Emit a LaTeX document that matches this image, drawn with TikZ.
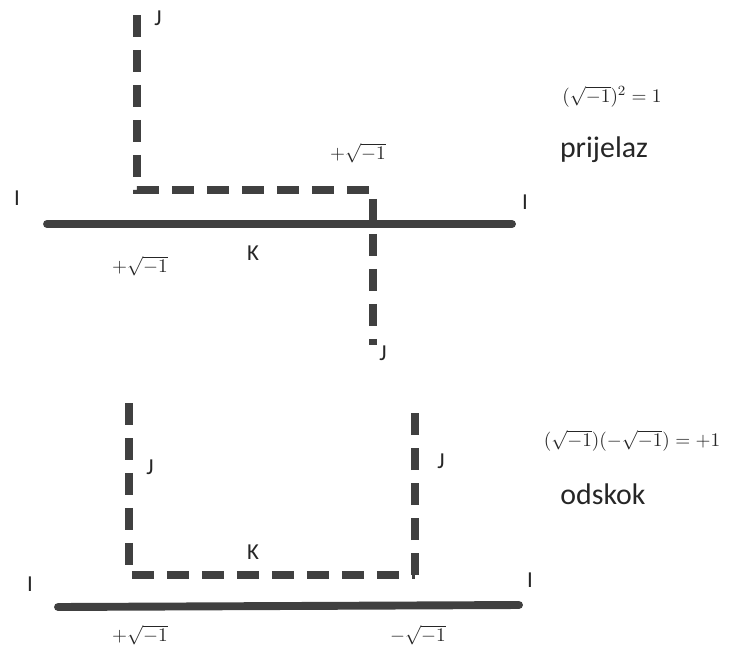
\documentclass[tikz,border=0pt]{standalone}
\usepackage{fontspec}
\setmainfont{Carlito}
\begin{document}
\begin{tikzpicture}[x=0.02cm,y=-0.02cm,
  route/.style={line width=4.5pt,color=black!75,dash pattern=on 0.44cm off 0.26cm},
  wall/.style={line width=4.5pt,color=black!75,line cap=round},
  lbl/.style={font=\fontsize{13}{15}\selectfont,text=black!85},
  val/.style={font=\fontsize{11}{13}\selectfont,text=black!85},
  ttl/.style={font=\fontsize{17}{20}\selectfont,text=black!85}]
\useasboundingbox (0,0) rectangle (733,649);
% prijelaz
\coordinate (ja) at (137,15);
\coordinate (ka) at (137,190);
\coordinate (kb) at (373,190);
\coordinate (jb) at (373,345);
\coordinate (ia) at (47,224);
\coordinate (ib) at (512,224);
\draw [wall](ia) -- (ib);
\draw [route](ja) -- (ka) -- (kb) -- (jb);
\node[lbl] (i1) at (17,198) {I};
\node[lbl] (i2) at (525,202) {I};
\node[lbl] (j1) at (158,18) {J};
\node[lbl] (j2) at (383,353) {J};
\node[lbl] (k1) at (253,253) {K};
\node[val] (p1) at (140,266) {$+\sqrt{-1}$};
\node[val] (p2) at (358,153) {$+\sqrt{-1}$};
\node[val] (e1) at (612,97) {$(\sqrt{-1})^2=1$};
\node[ttl] (n1) at (604,150) {prijelaz};
% odskok
\coordinate (jc) at (129,403);
\coordinate (kc) at (129,575);
\coordinate (kd) at (415,575);
\coordinate (jd) at (415,410);
\coordinate (ic) at (58,607);
\coordinate (id) at (519,605);
\draw [wall](ic) -- (id);
\draw [route](jc) -- (kc) -- (kd);
\draw [route](kd) -- (jd);
\node[lbl] (i3) at (30,584) {I};
\node[lbl] (i4) at (530,580) {I};
\node[lbl] (j3) at (150,467) {J};
\node[lbl] (j4) at (441,461) {J};
\node[lbl] (k2) at (253,552) {K};
\node[val] (p3) at (140,635) {$+\sqrt{-1}$};
\node[val] (m3) at (418,635) {$-\sqrt{-1}$};
\node[val] (e2) at (632,441) {$(\sqrt{-1})(-\sqrt{-1})=+1$};
\node[ttl] (n2) at (603,494) {odskok};
\end{tikzpicture}
\end{document}
